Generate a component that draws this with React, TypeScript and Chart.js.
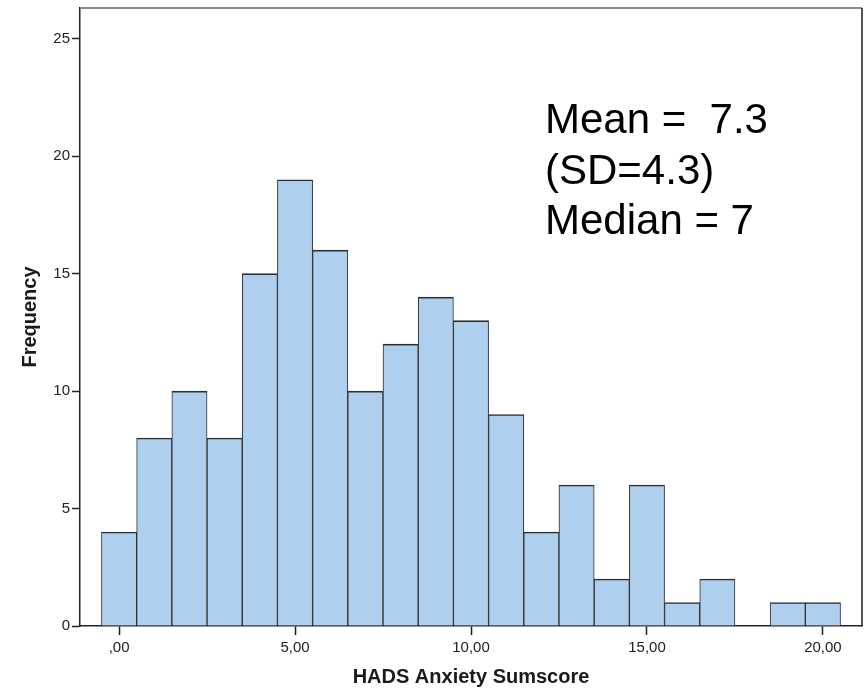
import React, { useEffect, useRef } from "react";
import { Chart, registerables } from "chart.js";

Chart.register(...registerables);

const binCenters = [0, 1, 2, 3, 4, 5, 6, 7, 8, 9, 10, 11, 12, 13, 14, 15, 16, 17, 18, 19, 20];
const frequencies = [4, 8, 10, 8, 15, 19, 16, 10, 12, 14, 13, 9, 4, 6, 2, 6, 1, 2, 0, 1, 1];
const xTickValues = [0, 5, 10, 15, 20];
const xTickLabels = [",00", "5,00", "10,00", "15,00", "20,00"];
const yTickValues = [0, 5, 10, 15, 20, 25];
const statLines = ["Mean =  7.3", "(SD=4.3)", "Median = 7"];
const xTitle = "HADS Anxiety Sumscore";
const yTitle = "Frequency";

const FONT = "'Liberation Sans', Arial, Helvetica, sans-serif";

const framePlugin = {
  id: "frame",
  afterDraw(chart: any) {
    const { ctx, chartArea } = chart;
    const { left, right, top, bottom } = chartArea;
    ctx.save();
    ctx.strokeStyle = "#8c8c8c";
    ctx.lineWidth = 2;
    ctx.beginPath();
    ctx.moveTo(left, top);
    ctx.lineTo(right, top);
    ctx.stroke();
    ctx.strokeStyle = "#1e1e1e";
    ctx.lineWidth = 1.5;
    ctx.beginPath();
    ctx.moveTo(right, top);
    ctx.lineTo(right, bottom);
    ctx.stroke();
    ctx.fillStyle = "#000000";
    ctx.font = `42px ${FONT}`;
    ctx.textAlign = "left";
    ctx.textBaseline = "alphabetic";
    const x0 = 545;
    const y0 = 133;
    statLines.forEach((line, i) => {
      ctx.fillText(line, x0, y0 + i * 50.5);
    });
    ctx.restore();
  },
};

export default function App() {
  const ref = useRef<HTMLCanvasElement | null>(null);
  useEffect(() => {
    if (!ref.current) return;
    const chart = new Chart(ref.current, {
      type: "bar",
      data: {
        datasets: [
          {
            data: binCenters.map((x, i) => ({ x, y: frequencies[i] })),
            backgroundColor: "#aecfed",
            borderColor: "#2e2e2e",
            borderWidth: { top: 1.6, left: 1, right: 1, bottom: 0 },
            borderSkipped: "start",
            barPercentage: 1,
            categoryPercentage: 1,
          },
        ],
      },
      options: {
        responsive: false,
        animation: false,
        events: [],
        layout: { padding: { top: 8, right: 5, left: 0, bottom: 0 } },
        plugins: {
          legend: { display: false },
          tooltip: { enabled: false },
        },
        scales: {
          x: {
            type: "linear",
            min: -1.11,
            max: 21.11,
            offset: false,
            z: 1,
            afterBuildTicks: (scale: any) => {
              scale.ticks = xTickValues.map((v) => ({ value: v }));
            },
            afterFit: (scale: any) => {
              scale.height = 63;
              scale.paddingLeft = 0;
              scale.paddingRight = 0;
            },
            ticks: {
              autoSkip: false,
              maxRotation: 0,
              padding: 4,
              color: "#222222",
              font: { family: FONT, size: 15 },
              callback: (v: any) => {
                const idx = xTickValues.indexOf(Number(v));
                return idx >= 0 ? xTickLabels[idx] : "";
              },
            },
            grid: {
              offset: false,
              drawOnChartArea: false,
              drawTicks: true,
              tickLength: 9,
              tickColor: "#222222",
              tickWidth: 1.5,
            },
            border: { display: true, color: "#222222", width: 1.5 },
            title: {
              display: true,
              text: xTitle,
              color: "#1a1a1a",
              font: { family: FONT, size: 20, weight: "bold" },
              padding: { top: 0, bottom: 0 },
            },
          },
          y: {
            type: "linear",
            min: 0,
            max: 26.31,
            z: 1,
            afterBuildTicks: (scale: any) => {
              scale.ticks = yTickValues.map((v) => ({ value: v }));
            },
            afterFit: (scale: any) => {
              scale.width = 80;
              scale.paddingTop = 0;
              scale.paddingBottom = 0;
            },
            ticks: {
              autoSkip: false,
              padding: 2,
              color: "#222222",
              font: { family: FONT, size: 15 },
              callback: (v: any) => String(v),
            },
            grid: {
              drawOnChartArea: false,
              drawTicks: true,
              tickLength: 8,
              tickColor: "#222222",
              tickWidth: 1.5,
            },
            border: { display: true, color: "#222222", width: 1.5 },
            title: {
              display: true,
              text: yTitle,
              color: "#1a1a1a",
              font: { family: FONT, size: 20, weight: "bold" },
              padding: { top: 18, bottom: 0 },
            },
          },
        },
      } as any,
      plugins: [framePlugin],
    });
    return () => chart.destroy();
  }, []);
  return (
    <div style={{ position: "fixed", left: 0, top: 0, width: 867, height: 689, background: "#ffffff" }}>
      <canvas ref={ref} width={867} height={689} style={{ display: "block", width: 867, height: 689 }} />
    </div>
  );
}
